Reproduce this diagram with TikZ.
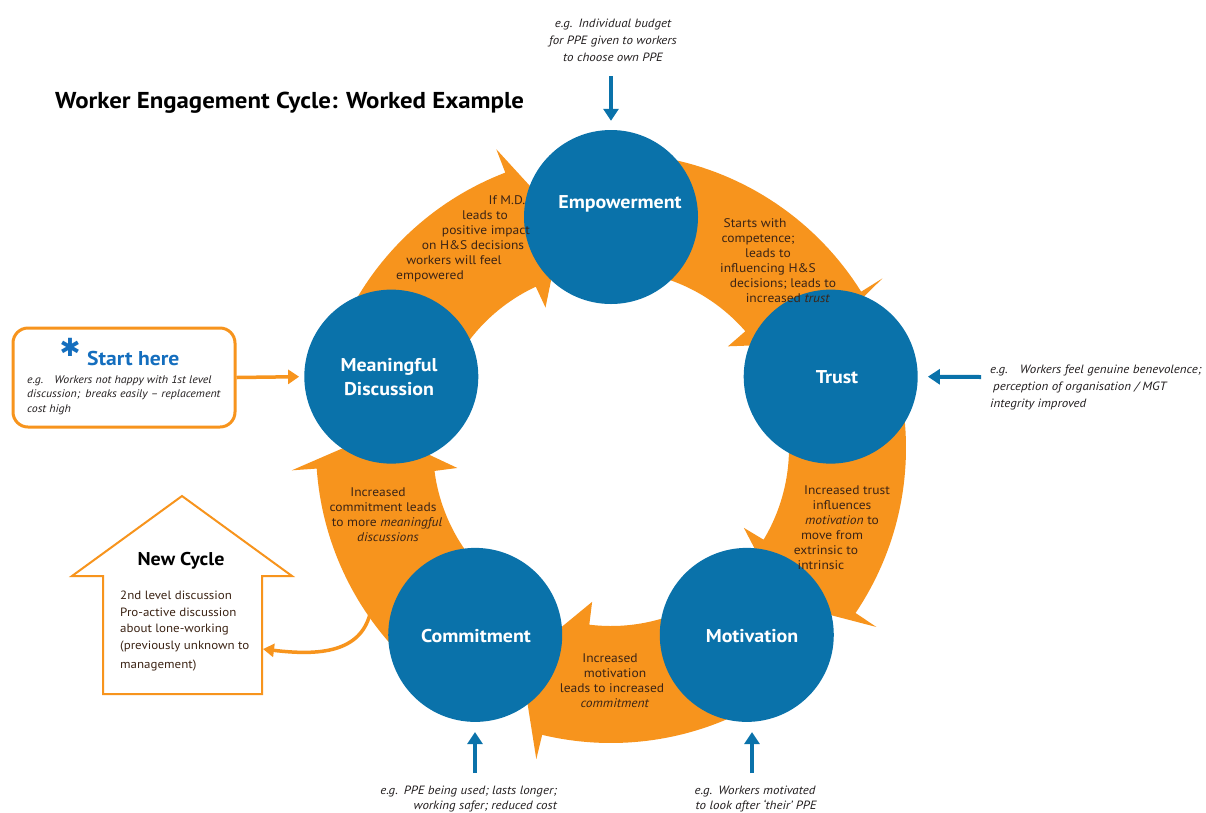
\documentclass[tikz,border=0pt]{standalone}
\usepackage{fontspec}
\setmainfont{PT Sans}[FakeStretch=1.08]
\newfontfamily\symfont{DejaVu Sans}
\usetikzlibrary{arrows.meta}
\definecolor{cblue}{RGB}{10,114,170}
\definecolor{corange}{RGB}{247,148,29}
\definecolor{ctext}{RGB}{60,36,21}
\definecolor{cnote}{RGB}{35,31,32}
\definecolor{cstart}{RGB}{20,110,190}
\begin{document}
\begin{tikzpicture}[x=1pt,y=-1pt,
  bcirc/.style={circle, fill=cblue, minimum size=174pt, inner sep=0pt},
  clabel/.style={text=white, font=\bfseries\fontsize{18.5}{22}\selectfont, inner sep=0pt},
  atext/.style={text=ctext, font=\fontsize{12.5}{15}\selectfont, anchor=base, inner sep=0pt},
  note/.style={text=cnote, font=\itshape\fontsize{12}{14}\selectfont, anchor=base, inner sep=0pt},
  boxnote/.style={text=cnote, font=\itshape\fontsize{11}{13}\selectfont, anchor=base west, inner sep=0pt},
  ctextnode/.style={text=ctext, font=\fontsize{12}{15}\selectfont, anchor=base west, inner sep=0pt},
  barrow/.style={draw=cblue, line width=4pt, -{Triangle[length=12pt,width=15pt]}},
  oarrow/.style={draw=corange, line width=3.5pt, -{Triangle[length=11pt,width=14pt]}}
]
\useasboundingbox (0,0) rectangle (1206,812);
\fill[white] (0,0) rectangle (1206,812);

% title
\node[anchor=base west, inner sep=0pt, font=\bfseries\fontsize{23}{27}\selectfont, text=black] (title) at (55,108) {Worker Engagement Cycle: Worked Example};

% ring arrows and circles
\begin{scope}[shift={(611,448)}]
  \foreach \s/\ow/\iw/\tp in {198/249/245/258, 270/328/319/333, 342/394/391/402, 414/463.5/457/473, 486/536/532.6/544}{
    \fill[corange] (\s:295) -- plot[domain=\s:\ow, samples=40, variable=\a] (\a:295)
      -- (\ow:320) -- (\tp:231) -- (\iw:155) -- (\iw:178)
      -- plot[domain=\iw:\s, samples=40, variable=\a] (\a:178) -- cycle;
  }
  \node[bcirc] (md) at (198:231) {};
  \node[bcirc] (emp) at (270:231) {};
  \node[bcirc] (trust) at (342:231) {};
  \node[bcirc] (mot) at (54:231) {};
  \node[bcirc] (com) at (126:231) {};
\end{scope}

% circle labels
\node[clabel] (emplab) at (620,204) {Empowerment};
\node[clabel] (trustlab) at (837,377) {Trust};
\node[clabel] (motlab) at (752,636) {Motivation};
\node[clabel] (comlab) at (476,636) {Commitment};
\node[clabel, align=center, font=\bfseries\fontsize{18.5}{24}\selectfont] (mdlab) at (389,377) {Meaningful\\Discussion};

% arrow 1 text
\node[atext] (a1l1) at (507,204) {If M.D.};
\node[atext] (a1l2) at (485,219) {leads to};
\node[atext] (a1l3) at (486,234) {positive impact};
\node[atext] (a1l4) at (473,249) {on H\&S decisions};
\node[atext] (a1l5) at (454,264) {workers will feel};
\node[atext] (a1l6) at (430,279) {empowered};
% arrow 2 text
\node[atext] (a2l1) at (755,227) {Starts with};
\node[atext] (a2l2) at (758,242) {competence;};
\node[atext] (a2l3) at (768,257) {leads to};
\node[atext] (a2l4) at (768,272) {influencing H\&S};
\node[atext] (a2l5) at (783,287) {decisions; leads to};
\node[atext] (a2l6) at (788,302) {increased \textit{trust}};
% arrow 3 text
\node[atext] (a3l1) at (847,494) {Increased trust};
\node[atext] (a3l2) at (842,509) {influences};
\node[atext] (a3l3) at (842,524) {\textit{motivation} to};
\node[atext] (a3l4) at (832,539) {move from};
\node[atext] (a3l5) at (826,554) {extrinsic to};
\node[atext] (a3l6) at (821,569) {intrinsic};
% arrow 4 text
\node[atext] (a4l1) at (610,662) {Increased};
\node[atext] (a4l2) at (615,677) {motivation};
\node[atext] (a4l3) at (612,692) {leads to increased};
\node[atext] (a4l4) at (615,707) {\textit{commitment}};
% arrow 5 text
\node[atext] (a5l1) at (378,496) {Increased};
\node[atext] (a5l2) at (383,511) {commitment leads};
\node[atext] (a5l3) at (387,526) {to more \textit{meaningful}};
\node[atext] (a5l4) at (388,541) {\textit{discussions}};

% top note
\node[note] (tn1) at (613,27) {e.g.\enspace Individual budget};
\node[note] (tn2) at (613,44) {for PPE given to workers};
\node[note] (tn3) at (613,61) {to choose own PPE};
\coordinate (topc) at (611,76);
\draw[barrow, shorten >=9pt] (topc) -- (emp.north);

% right note
\node[note, anchor=base west] (rn1) at (990,373) {e.g.\quad Workers feel genuine benevolence;};
\node[note, anchor=base west] (rn2) at (993,390) {perception of organisation / MGT};
\node[note, anchor=base west] (rn3) at (990,407) {integrity improved};
\coordinate (rightc) at (981,377);
\draw[barrow, shorten >=10pt] (rightc) -- (trust.east);

% bottom notes
\node[note, anchor=base east] (bl1) at (557,794) {e.g.\enspace PPE being used; lasts longer;};
\node[note, anchor=base east] (bl2) at (557,809) {working safer; reduced cost};
\node[note] (br1) at (755,794) {e.g.\enspace Workers motivated};
\node[note] (br2) at (756,809) {to look after ‘their’ PPE};
\coordinate (blc) at (475,773);
\coordinate (brc) at (752,773);
\draw[barrow, shorten >=10pt] (blc) -- (blc |- com.south);
\draw[barrow, shorten >=10pt] (brc) -- (brc |- mot.south);

% start box
\node[draw=corange, line width=3pt, rounded corners=15pt, minimum width=222pt, minimum height=99pt, inner sep=0pt] (startbox) at (124,377.5) {};
\node[anchor=base, inner sep=0pt, text=cstart, font=\symfont\fontsize{25}{25}\selectfont] (ast) at (70,356) {✱};
\node[anchor=base west, inner sep=0pt, text=cstart, font=\bfseries\fontsize{20}{24}\selectfont] (starthere) at (87,365) {Start here};
\node[boxnote] (sb1) at (27,383) {e.g.\quad Workers not happy with 1st level};
\node[boxnote] (sb2) at (27,397) {discussion;\enspace breaks easily -- replacement};
\node[boxnote] (sb3) at (27,412) {cost high};
\draw[oarrow, shorten >=5pt] (startbox.east) -- (md.west);

% new cycle house
\coordinate (h1) at (182,496);
\coordinate (h2) at (292,576);
\coordinate (h3) at (262,576);
\coordinate (h4) at (262,694);
\coordinate (h5) at (103,694);
\coordinate (h6) at (103,576);
\coordinate (h7) at (72,576);
\draw[corange, line width=2pt, line join=miter] (h1) -- (h2) -- (h3) -- (h4) -- (h5) -- (h6) -- (h7) -- cycle;
\node[anchor=base, inner sep=0pt, font=\bfseries\fontsize{18.5}{22}\selectfont, text=black] (nctitle) at (181,565) {New Cycle};
\node[ctextnode] (nc1) at (120,599) {2nd level discussion};
\node[ctextnode] (nc2) at (120,616) {Pro-active discussion};
\node[ctextnode] (nc3) at (120,632) {about lone-working};
\node[ctextnode] (nc4) at (120,649) {(previously unknown to};
\node[ctextnode] (nc5) at (120,668) {management)};
\coordinate (ncstart) at (370,614);
\coordinate (ncend) at (263,649);
\draw[corange, line width=3.5pt, -{Triangle[length=11pt,width=13pt]}] (ncstart) .. controls (360,652) and (320,656) .. (ncend);
\end{tikzpicture}
\end{document}
